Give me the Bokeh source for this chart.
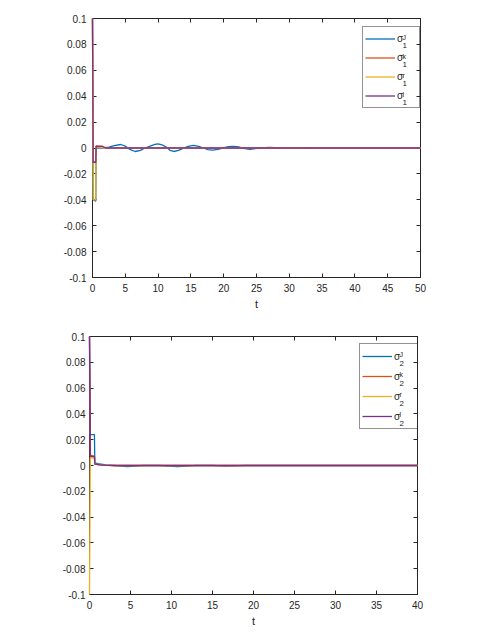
from bokeh.plotting import figure
from bokeh.layouts import column, row
from bokeh.models import (LinearAxis, FixedTicker, Legend, LegendItem, Label, Range1d)
from bokeh.embed import file_html
from bokeh.resources import INLINE

# ---------------- data ----------------
# top panel: sigma_1
t1_J = [0, 0.1, 0.5, 0.55, 1.5, 2.5, 3.3, 4.3, 5.0, 5.6, 6.5, 7.3, 8.0, 8.8, 9.5, 10.0, 10.6,
        11.3, 11.8, 12.4, 13.1, 13.8, 14.6, 15.4, 16.2, 16.9, 17.6, 18.3, 19.1, 19.9, 20.7,
        21.5, 22.3, 23.0, 24.0, 24.8, 25.5, 27.0, 28.5, 30.0, 31.5, 33.0, 35.0, 50]
s1_J = [0.1, -0.04, -0.041, 0.0, 0.0, 0.0007, 0.0018, 0.0027, 0.0015, -0.0008, -0.0027,
        -0.0018, 0.0, 0.0015, 0.0028, 0.0032, 0.0025, 0.0005, -0.0018, -0.0027, -0.0018,
        -0.0003, 0.0013, 0.002, 0.0013, 0.0, -0.0012, -0.0017, -0.0011, 0.0, 0.001, 0.0013,
        0.0008, -0.0002, -0.001, -0.0005, 0.0, 0.0005, 0.0, -0.0003, 0.0, 0.0002, 0.0, 0.0]
t1_k = [0, 0.1, 0.5, 0.55, 1.5, 2.0, 50]
s1_k = [0.1, -0.011, -0.011, 0.0015, 0.0012, 0.0, 0.0]
t1_r = [0, 0.1, 0.5, 0.55, 1.0, 2.0, 50]
s1_r = [0.1, -0.04, -0.04, 0.001, 0.0005, 0.0, 0.0]
t1_l = [0, 0.1, 0.5, 0.55, 1.5, 2.0, 50]
s1_l = [0.1, -0.011, -0.011, 0.0015, 0.0012, 0.0, 0.0]

# bottom panel: sigma_2
t2_J = [0, 0.1, 0.6, 0.65, 1.0, 2.0, 3.0, 4.6, 6.5, 8.5, 10.7, 13.0, 15.0, 16.6, 19.0, 40]
s2_J = [0.1, 0.024, 0.024, 0.002, 0.0015, 0.0005, 0.0, -0.0008, 0.0, 0.0, -0.0008, 0.0,
        0.0, -0.0005, 0.0, 0.0]
t2_k = [0, 0.1, 0.6, 0.65, 1.5, 3.0, 40]
s2_k = [0.1, 0.008, 0.007, 0.001, 0.0003, 0.0, 0.0]
t2_r = [0, 0.1, 0.6, 0.65, 1.5, 3.0, 40]
s2_r = [-0.1, 0.006, 0.006, 0.001, 0.0003, 0.0, 0.0]
t2_l = [0, 0.1, 0.6, 0.65, 1.5, 3.0, 40]
s2_l = [0.1, 0.007, 0.007, 0.001, 0.0003, 0.0, 0.0]

x1_ticks = [0, 5, 10, 15, 20, 25, 30, 35, 40, 45, 50]
x2_ticks = [0, 5, 10, 15, 20, 25, 30, 35, 40]
y_ticks = [-0.1, -0.08, -0.06, -0.04, -0.02, 0, 0.02, 0.04, 0.06, 0.08, 0.1]
y_tick_labels = ["-0.1", "-0.08", "-0.06", "-0.04", "-0.02", "0", "0.02", "0.04", "0.06", "0.08", "0.1"]
sup_labels = ["J", "k", "r", "l"]

COLORS = ["#0072BD", "#D95319", "#EDB120", "#7E2F8E"]
INK = "#262626"
FONT = "Liberation Sans"


def style_axis(ax, ticks, labels=None, show_labels=True):
    ax.ticker = FixedTicker(ticks=ticks)
    ax.minor_tick_line_color = None
    ax.major_tick_in = 4
    ax.major_tick_out = 0
    ax.axis_line_color = INK
    ax.major_tick_line_color = INK
    ax.major_label_text_font = FONT
    if labels is not None:
        ax.major_label_overrides = {t: l for t, l in zip(ticks, labels)}
    if show_labels:
        ax.major_label_text_font_size = "10px"
        ax.major_label_text_color = INK
    else:
        # tick marks only (box on): labels are not painted
        ax.major_label_text_font_size = "1px"
        ax.major_label_text_color = None
        ax.major_label_standoff = 0


def make_panel(series, xmax, xticks, sub, fw, fh, left, top, bottom, leg, ystand):
    p = figure(frame_width=fw, frame_height=fh, min_border_left=left, min_border_top=top,
               min_border_bottom=bottom, min_border_right=30,
               x_range=Range1d(0, xmax), y_range=Range1d(-0.1, 0.1),
               output_backend="svg", toolbar_location=None)
    p.grid.visible = False
    p.outline_line_color = INK
    p.background_fill_color = "white"
    p.border_fill_color = "white"

    style_axis(p.xaxis[0], xticks)
    p.xaxis[0].major_label_standoff = 6
    p.xaxis[0].axis_label = "t"
    p.xaxis[0].axis_label_text_font = FONT
    p.xaxis[0].axis_label_text_font_style = "normal"
    p.xaxis[0].axis_label_text_font_size = "11px"
    p.xaxis[0].axis_label_text_color = INK
    p.xaxis[0].axis_label_standoff = 3
    style_axis(p.yaxis[0], y_ticks, y_tick_labels)
    p.yaxis[0].major_label_standoff = ystand

    top_ax = LinearAxis()
    style_axis(top_ax, xticks, show_labels=False)
    p.add_layout(top_ax, "above")
    right_ax = LinearAxis()
    style_axis(right_ax, y_ticks, show_labels=False)
    p.add_layout(right_ax, "right")

    renderers = []
    for (t, s), c in zip(series, COLORS):
        renderers.append(p.line(t, s, line_color=c, line_width=1.3, level="overlay"))

    lx, ly_top, gh, gw, pad, lw = leg
    items = [LegendItem(label="σ", renderers=[r]) for r in renderers]
    n = len(items)
    height = 2 * pad + n * gh
    legend = Legend(items=items, location=(lx, fh - ly_top - height), margin=0,
                    padding=pad, spacing=0, glyph_height=gh, glyph_width=gw,
                    label_standoff=2, label_width=lw, label_height=gh,
                    label_text_font=FONT, label_text_font_size="10px",
                    label_text_color=INK,
                    border_line_color=INK, border_line_width=1,
                    background_fill_alpha=0)
    p.add_layout(legend)

    # stacked superscript / subscript next to each sigma
    sx = lx + pad + gw + 2 + 6
    for i, sup in enumerate(sup_labels):
        yc = fh - ly_top - pad - gh * i - gh / 2.0
        p.add_layout(Label(x=sx, y=yc + 3, x_units="screen", y_units="screen", text=sup,
                           text_font=FONT, text_font_size="7px", text_color=INK,
                           text_baseline="alphabetic", text_align="left", level="overlay"))
        p.add_layout(Label(x=sx, y=yc - 5.5, x_units="screen", y_units="screen", text=sub,
                           text_font=FONT, text_font_size="8px", text_color=INK,
                           text_baseline="alphabetic", text_align="left", level="overlay"))
    return p


p1 = make_panel([(t1_J, s1_J), (t1_k, s1_k), (t1_r, s1_r), (t1_l, s1_l)], 50, x1_ticks, "1",
                328, 259, 92, 18, 40, (270, 10, 19, 30, 2, 20), 6)
p2 = make_panel([(t2_J, s2_J), (t2_k, s2_k), (t2_r, s2_r), (t2_l, s2_l)], 40, x2_ticks, "2",
                328, 258, 89, 19, 32, (270, 9, 20, 30, 2, 22), 4)

layout = column(row(p1), row(p2), spacing=0)
open("out.html", "w").write(file_html(layout, INLINE))
